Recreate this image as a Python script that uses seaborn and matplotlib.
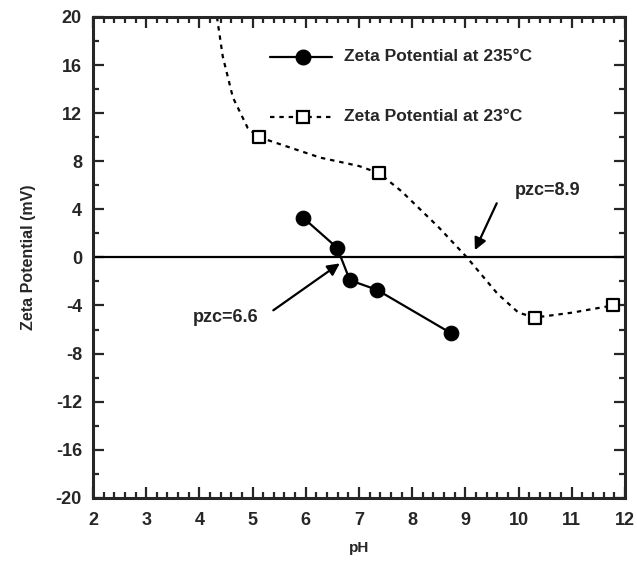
import matplotlib
matplotlib.use("Agg")
from matplotlib import pyplot as plt
from matplotlib.ticker import MultipleLocator
import numpy as np
import pandas as pd
import seaborn as sns

# measured points
ph_235 = [5.95, 6.59, 6.83, 7.34, 8.73]
mv_235 = [3.3, 0.8, -1.9, -2.7, -6.3]

ph_23 = [5.12, 7.38, 10.31, 11.77]
mv_23 = [10.0, 7.0, -5.0, -4.0]

# dashed trend line for 23C
trace_ph_23 = [4.33, 4.44, 4.63, 4.91, 5.12, 6.27, 7.0, 7.38, 7.8, 8.5, 9.03, 9.6, 10.0, 10.31, 11.0, 11.77]
trace_mv_23 = [20.0, 16.7, 13.3, 10.75, 10.0, 8.3, 7.6, 7.0, 5.5, 2.5, 0.0, -3.0, -4.6, -5.0, -4.6, -4.0]

label_235 = "Zeta Potential at 235\u00b0C"
label_23 = "Zeta Potential at 23\u00b0C"

df_235 = pd.DataFrame({"pH": ph_235, "mV": mv_235})
df_23 = pd.DataFrame({"pH": ph_23, "mV": mv_23})
df_trace = pd.DataFrame({"pH": trace_ph_23, "mV": trace_mv_23})

sns.set_style("ticks")
plt.rcParams["font.family"] = ["Liberation Sans", "DejaVu Sans"]
plt.rcParams["font.weight"] = "bold"
plt.rcParams["axes.unicode_minus"] = False

fig = plt.figure(figsize=(6.37, 5.83), dpi=100)
ax = fig.add_axes([0.146, 0.146, 0.835, 0.825])

ax.axhline(0, color="black", lw=1.6, zorder=1)

sns.lineplot(data=df_trace, x="pH", y="mV", ax=ax, color="black", lw=1.6,
             sort=False, estimator=None)
ax.lines[-1].set_dashes([2, 2.2])
sns.scatterplot(data=df_23, x="pH", y="mV", ax=ax, marker="s", s=70,
                facecolor="white", edgecolor="black", linewidth=1.6, zorder=3)

sns.lineplot(data=df_235, x="pH", y="mV", ax=ax, color="black", lw=1.6,
             sort=False, estimator=None)
sns.scatterplot(data=df_235, x="pH", y="mV", ax=ax, color="black", s=110,
                edgecolor="black", zorder=4)

# legend drawn by hand, like the original
ax.plot([5.33, 6.5], [16.7, 16.7], color="black", lw=1.6)
ax.plot([5.95], [16.7], "o", color="black", ms=10.5)
ax.text(6.71, 16.7, label_235, va="center", ha="left", fontsize=12.5, fontweight="bold")
ax.plot([5.33, 6.5], [11.7, 11.7], color="black", lw=1.6, dashes=[2, 2.2])
ax.plot([5.95], [11.7], "s", mfc="white", mec="black", mew=1.6, ms=8)
ax.text(6.71, 11.7, label_23, va="center", ha="left", fontsize=12.5, fontweight="bold")

arrow = dict(arrowstyle="-|>", color="black", lw=1.6, mutation_scale=18, shrinkA=0, shrinkB=0)
ax.annotate("", xy=(6.64, -0.5), xytext=(5.39, -4.4), arrowprops=arrow)
ax.text(4.5, -5.0, "pzc=6.6", ha="center", va="center", fontsize=13, fontweight="bold")
ax.annotate("", xy=(9.18, 0.6), xytext=(9.59, 4.5), arrowprops=arrow)
ax.text(10.55, 5.6, "pzc=8.9", ha="center", va="center", fontsize=13, fontweight="bold")

ax.set_xlim(2, 12)
ax.set_ylim(-20, 20)
ax.xaxis.set_major_locator(MultipleLocator(1))
ax.xaxis.set_minor_locator(MultipleLocator(0.2))
ax.yaxis.set_major_locator(MultipleLocator(4))
ax.yaxis.set_minor_locator(MultipleLocator(2))
ax.tick_params(which="both", direction="in", top=True, right=True, width=1.6, labelsize=13, pad=10)
ax.tick_params(which="major", length=8)
ax.tick_params(which="minor", length=4)
ax.tick_params(axis="y", pad=8)
for s in ax.spines.values():
    s.set_linewidth(2.2)
for t in ax.get_xticklabels() + ax.get_yticklabels():
    t.set_fontweight("bold")

ax.set_xlabel("pH", fontsize=11, fontweight="bold", labelpad=9)
ax.set_ylabel("Zeta Potential (mV)", fontsize=11.5, fontweight="bold", labelpad=14)

fig.savefig("out.png", dpi=100)
